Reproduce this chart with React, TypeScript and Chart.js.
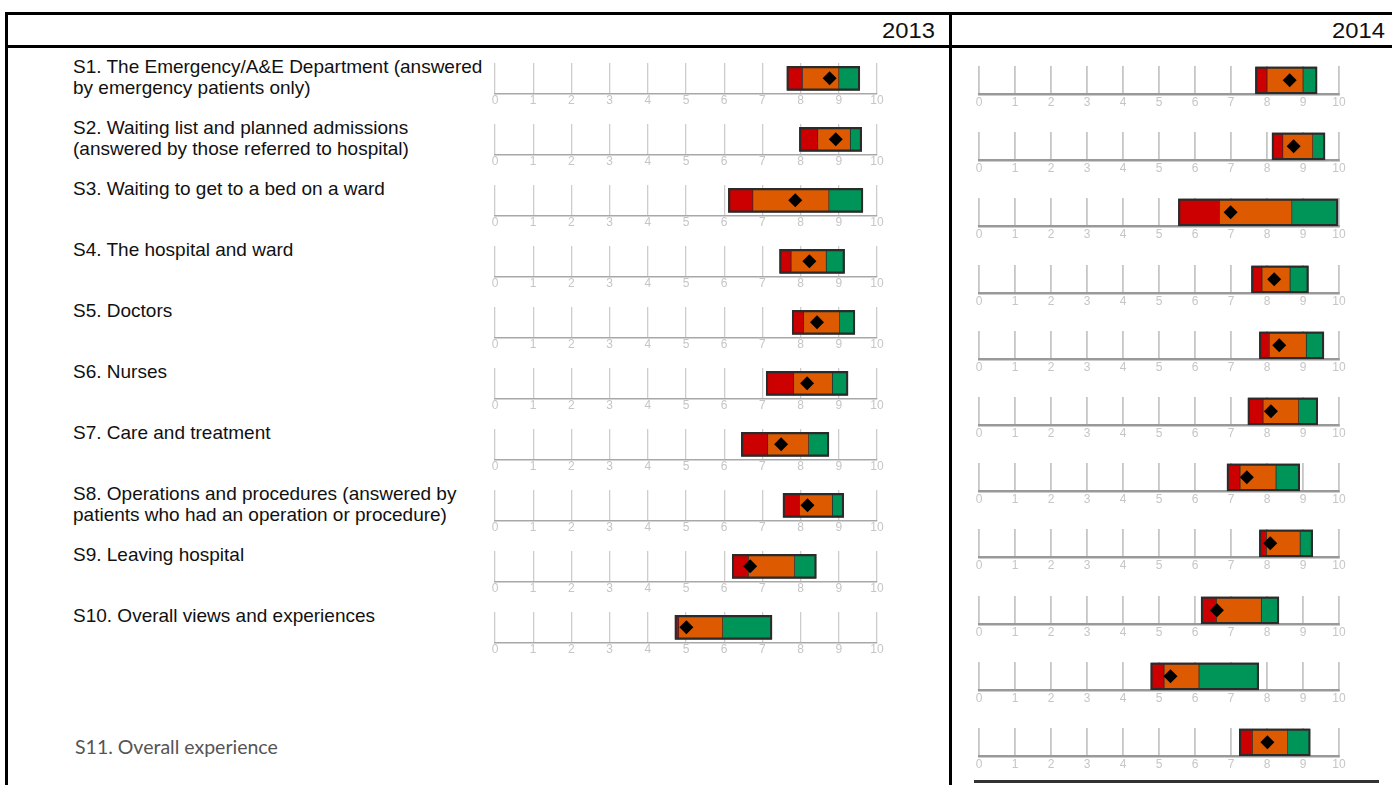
import { useEffect, useRef } from "react";
import { Chart, registerables } from "chart.js";

Chart.register(...registerables);

const RED = "#CC0000";
const ORANGE = "#DD5A00";
const GREEN = "#009558";
const EDGE = "#2b2b2b";

const ROW_LABELS = [
  ["S1. The Emergency/A&E Department (answered", "by emergency patients only)"],
  ["S2. Waiting list and planned admissions", "(answered by those referred to hospital)"],
  ["S3. Waiting to get to a bed on a ward"],
  ["S4. The hospital and ward"],
  ["S5. Doctors"],
  ["S6. Nurses"],
  ["S7. Care and treatment"],
  ["S8. Operations and procedures (answered by", "patients who had an operation or procedure)"],
  ["S9. Leaving hospital"],
  ["S10. Overall views and experiences"],
];
const LAST_LABEL = "S11. Overall experience";
const YEARS = ["2013", "2014"];
const TICKS = [0, 1, 2, 3, 4, 5, 6, 7, 8, 9, 10];

// 2013: range start, red/orange split, orange/green split, range end, score
const LOW_2013 = [7.64, 7.97, 6.11, 7.45, 7.78, 7.1, 6.45, 7.54, 6.21, 4.71];
const RED_2013 = [8.05, 8.45, 6.75, 7.75, 8.08, 7.82, 7.14, 7.97, 6.63, 4.81];
const ORANGE_2013 = [9.0, 9.3, 8.74, 8.67, 9.02, 8.83, 8.21, 8.83, 7.84, 5.96];
const HIGH_2013 = [9.55, 9.6, 9.63, 9.15, 9.42, 9.24, 8.74, 9.13, 8.41, 7.25];
const SCORE_2013 = [8.76, 8.92, 7.86, 8.23, 8.43, 8.17, 7.49, 8.18, 6.68, 5.01];

// 2014
const LOW_2014 = [7.68, 8.14, 5.54, 7.57, 7.79, 7.47, 6.89, 7.79, 6.17, 4.77, 7.23];
const RED_2014 = [8.0, 8.44, 6.68, 7.86, 8.06, 7.89, 7.25, 7.98, 6.59, 5.14, 7.59];
const ORANGE_2014 = [9.0, 9.27, 8.69, 8.64, 9.09, 8.88, 8.25, 8.92, 7.84, 6.11, 8.57];
const HIGH_2014 = [9.39, 9.61, 9.97, 9.15, 9.58, 9.41, 8.91, 9.27, 8.33, 7.77, 9.2];
const SCORE_2014 = [8.63, 8.74, 6.99, 8.2, 8.34, 8.11, 7.44, 8.09, 6.61, 5.32, 8.01];

type Look = {
  thickness: number;
  grid: string;
  gridWidth: number;
  axis: string;
  axisWidth: number;
  tickPad: number;
};

const LOOK_2013: Look = { thickness: 24, grid: "#cdcdcd", gridWidth: 1.3, axis: "#a8a8a8", axisWidth: 1.6, tickPad: 0 };
const LOOK_2014: Look = { thickness: 27, grid: "#c6c6c6", gridWidth: 1.8, axis: "#999", axisWidth: 2.4, tickPad: 1 };

const CANVAS_H = 52;
const AXIS_FROM_TOP = 36;

type RowProps = {
  left: number;
  axisY: number;
  areaW: number;
  areaH: number;
  low: number;
  redTop: number;
  orangeTop: number;
  high: number;
  score: number;
  look: Look;
};

function ScoreRow({ left, axisY, areaW, areaH, low, redTop, orangeTop, high, score, look }: RowProps) {
  const ref = useRef<HTMLCanvasElement>(null);

  useEffect(() => {
    if (!ref.current) return;
    const chart = new Chart(ref.current, {
      type: "bar",
      data: {
        labels: [""],
        datasets: [
          {
            type: "line",
            indexAxis: "y",
            data: [score],
            showLine: false,
            pointStyle: "rectRot",
            pointRadius: 7,
            pointBackgroundColor: "#000",
            pointBorderWidth: 0,
            order: 0,
          } as any,
          { data: [[low, high]], backgroundColor: "rgba(0,0,0,0)", borderColor: EDGE, borderWidth: 1.5, order: 1 },
          { data: [[low, redTop]], backgroundColor: RED, borderColor: EDGE, borderWidth: 0.7, order: 2 },
          { data: [[redTop, orangeTop]], backgroundColor: ORANGE, borderColor: EDGE, borderWidth: 0.7, order: 2 },
          { data: [[orangeTop, high]], backgroundColor: GREEN, borderColor: EDGE, borderWidth: 0.7, order: 2 },
        ],
      },
      options: {
        indexAxis: "y",
        animation: false,
        responsive: false,
        events: [],
        layout: { padding: { left: 10, right: 10, top: AXIS_FROM_TOP - areaH, bottom: 0 } },
        datasets: { bar: { grouped: false, barThickness: look.thickness, borderSkipped: false } },
        scales: {
          x: {
            min: 0,
            max: 10,
            afterBuildTicks: (scale) => {
              scale.ticks = TICKS.map((v) => ({ value: v }));
            },
            ticks: {
              color: "#c6c6c6",
              padding: look.tickPad,
              maxRotation: 0,
              autoSkip: false,
              font: { family: "'Liberation Sans', Arial, sans-serif", size: 12 },
            },
            grid: { color: look.grid, lineWidth: look.gridWidth, drawTicks: false },
            border: { display: true, color: look.axis, width: look.axisWidth },
          },
          y: { display: false },
        },
        plugins: { legend: { display: false }, tooltip: { enabled: false } },
      },
    });
    return () => chart.destroy();
  }, [low, redTop, orangeTop, high, score, look, areaH]);

  return (
    <canvas
      ref={ref}
      width={areaW + 20}
      height={CANVAS_H}
      style={{ position: "absolute", left: left - 10, top: axisY - AXIS_FROM_TOP }}
    />
  );
}

const rule = (left: number, top: number, width: number, height: number) => (
  <div style={{ position: "absolute", left, top, width, height, background: "#000" }} />
);

export default function App() {
  return (
    <div
      style={{
        position: "fixed",
        inset: 0,
        background: "#fff",
        overflow: "hidden",
        fontFamily: "'Liberation Sans', Arial, sans-serif",
        color: "#111",
      }}
    >
      {rule(5, 12, 1387, 3)}
      {rule(5, 45, 1387, 3)}
      {rule(5, 12, 3, 773)}
      {rule(949, 12, 3, 773)}

      {YEARS.map((y, i) => (
        <div
          key={y}
          style={{
            position: "absolute",
            right: i === 0 ? 1392 - 935 : 1392 - 1385,
            top: 18,
            fontSize: 22,
            lineHeight: "26px",
            transform: "scaleX(1.08)",
            transformOrigin: "right center",
          }}
        >
          {y}
        </div>
      ))}

      {ROW_LABELS.map((lines, i) => (
        <div
          key={i}
          style={{
            position: "absolute",
            left: 73,
            top: 91.7 + 61 * i - 36.2,
            fontSize: 19,
            lineHeight: "21px",
            whiteSpace: "nowrap",
          }}
        >
          {lines.map((l, j) => (
            <div key={j}>{l}</div>
          ))}
        </div>
      ))}
      <div
        style={{
          position: "absolute",
          left: 75,
          top: 735,
          fontFamily: "Lato, 'Open Sans', sans-serif",
          fontSize: 19.5,
          lineHeight: "24px",
          color: "#555",
          whiteSpace: "nowrap",
        }}
      >
        {LAST_LABEL}
      </div>

      {SCORE_2013.map((s, i) => (
        <ScoreRow
          key={"a" + i}
          left={495}
          axisY={91.7 + 61 * i}
          areaW={382}
          areaH={33}
          low={LOW_2013[i]}
          redTop={RED_2013[i]}
          orangeTop={ORANGE_2013[i]}
          high={HIGH_2013[i]}
          score={s}
          look={LOOK_2013}
        />
      ))}
      {SCORE_2014.map((s, i) => (
        <ScoreRow
          key={"b" + i}
          left={979}
          axisY={95 + 66.2 * i}
          areaW={360}
          areaH={33.5}
          low={LOW_2014[i]}
          redTop={RED_2014[i]}
          orangeTop={ORANGE_2014[i]}
          high={HIGH_2014[i]}
          score={s}
          look={LOOK_2014}
        />
      ))}

      <div style={{ position: "absolute", left: 974, top: 780, width: 405, height: 3, background: "#333" }} />
    </div>
  );
}
